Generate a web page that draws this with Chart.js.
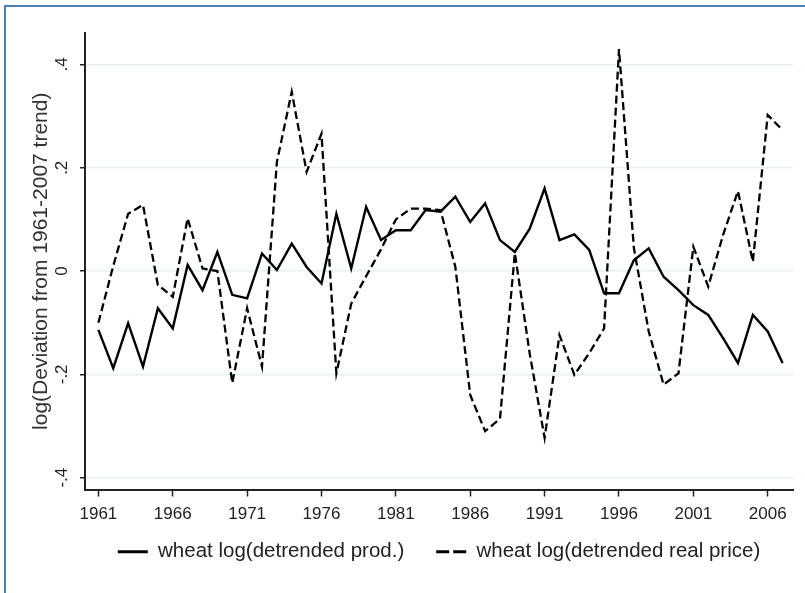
<!DOCTYPE html>
<html>
<head>
<meta charset="utf-8">
<script src="https://cdn.jsdelivr.net/npm/chart.js@4"></script>
<style>
  html, body { margin: 0; padding: 0; background: #fff; }
  #wrap { position: relative; width: 805px; height: 593px; }
  #frame { position: absolute; left: 4px; top: 5px; right: 0; bottom: 0;
           border-left: 2px solid #4f7fb8; border-top: 2px solid #4f7fb8; pointer-events: none; }
</style>
</head>
<body>
<div id="wrap">
  <canvas id="chart" width="805" height="593"></canvas>
  <div id="frame"></div>
</div>
<script>
const years = [];
for (let y = 1961; y <= 2007; y++) years.push(y);

const prod = [-0.114, -0.188, -0.101, -0.185, -0.072, -0.111, 0.012, -0.037, 0.037, -0.046,
  -0.053, 0.034, 0.002, 0.053, 0.008, -0.024, 0.111, 0.005, 0.124, 0.060,
  0.079, 0.079, 0.118, 0.115, 0.144, 0.095, 0.131, 0.060, 0.037, 0.082,
  0.160, 0.060, 0.071, 0.041, -0.043, -0.043, 0.021, 0.044, -0.011, -0.037,
  -0.066, -0.085, -0.130, -0.178, -0.085, -0.117, -0.178];

const price = [-0.100, 0.010, 0.111, 0.128, -0.027, -0.050, 0.102, 0.005, 0.000, -0.217,
  -0.072, -0.185, 0.211, 0.347, 0.192, 0.266, -0.198, -0.063, -0.010, 0.042,
  0.100, 0.121, 0.121, 0.118, 0.008, -0.240, -0.310, -0.286, 0.035, -0.160,
  -0.323, -0.124, -0.201, -0.159, -0.111, 0.430, 0.045, -0.117, -0.220, -0.198,
  0.047, -0.030, 0.070, 0.155, 0.018, 0.302, 0.273];

const xTicks = [1961, 1966, 1971, 1976, 1981, 1986, 1991, 1996, 2001, 2006];
const yTicks = [-0.4, -0.2, 0, 0.2, 0.4];
const seriesNames = ['wheat log(detrended prod.)', 'wheat log(detrended real price)'];

const ink = '#222';
const fmtY = v => {
  if (Math.abs(v) < 1e-9) return '0';
  return (v < 0 ? '-' : '') + String(Math.abs(v)).replace(/^0/, '');
};

// pull the legend up a bit closer to the axis labels (labels.padding also sets item spacing)
const liftLegend = {
  id: 'liftLegend',
  afterLayout(chart) {
    const lg = chart.legend;
    if (lg) { lg.top -= 20; lg.bottom -= 20; }
  }
};

new Chart(document.getElementById('chart'), {
  type: 'line',
  data: {
    datasets: [
      {
        label: seriesNames[0],
        data: years.map((y, i) => ({x: y, y: prod[i]})),
        borderColor: '#000',
        backgroundColor: '#000',
        borderWidth: 2.4,
        pointRadius: 0,
        pointStyle: 'line',
        tension: 0
      },
      {
        label: seriesNames[1],
        data: years.map((y, i) => ({x: y, y: price[i]})),
        borderColor: '#000',
        backgroundColor: '#000',
        borderWidth: 2.3,
        borderDash: [8, 4],
        pointRadius: 0,
        pointStyle: 'line',
        tension: 0
      }
    ]
  },
  plugins: [liftLegend],
  options: {
    responsive: false,
    animation: false,
    layout: { padding: { left: 5, right: 12, top: 33, bottom: 1 } },
    plugins: {
      tooltip: { enabled: false },
      legend: {
        position: 'bottom',
        fullSize: false,
        labels: {
          usePointStyle: true,
          pointStyleWidth: 30,
          padding: 32,
          color: ink,
          font: { family: 'Arial, "Liberation Sans", sans-serif', size: 20.5 },
          generateLabels(chart) {
            const items = Chart.defaults.plugins.legend.labels.generateLabels(chart);
            items.forEach((it, i) => {
              it.lineWidth = 3;
              it.lineDash = i === 1 ? [13, 4] : [];
            });
            return items;
          }
        }
      }
    },
    scales: {
      x: {
        type: 'linear',
        min: 1960.1,
        max: 2007.7,
        afterBuildTicks: s => { s.ticks = xTicks.map(v => ({value: v})); },
        afterFit: s => { s.height = 40; },
        grid: { drawOnChartArea: false, drawTicks: true, tickLength: 7, tickColor: ink, tickWidth: 1.5 },
        border: { color: ink, width: 2 },
        ticks: {
          color: ink,
          padding: 8,
          maxRotation: 0,
          font: { family: 'Arial, "Liberation Sans", sans-serif', size: 17 },
          callback: v => String(v)
        }
      },
      y: {
        min: -0.423,
        max: 0.461,
        afterBuildTicks: s => { s.ticks = yTicks.map(v => ({value: v})); },
        afterFit: s => { s.width = 80; },
        grid: { color: '#e6eff1', lineWidth: 1.5, drawTicks: true, tickLength: 5, tickColor: ink, tickWidth: 1.5 },
        border: { color: ink, width: 2 },
        title: {
          display: true,
          text: 'log(Deviation from 1961-2007 trend)',
          color: '#333',
          padding: { top: 24, bottom: 0 },
          font: { family: 'Arial, "Liberation Sans", sans-serif', size: 21 }
        },
        ticks: {
          color: ink,
          padding: 8,
          minRotation: 90,
          maxRotation: 90,
          crossAlign: 'center',
          font: { family: 'Arial, "Liberation Sans", sans-serif', size: 17 },
          callback: v => fmtY(v)
        }
      }
    }
  }
});
</script>
</body>
</html>
